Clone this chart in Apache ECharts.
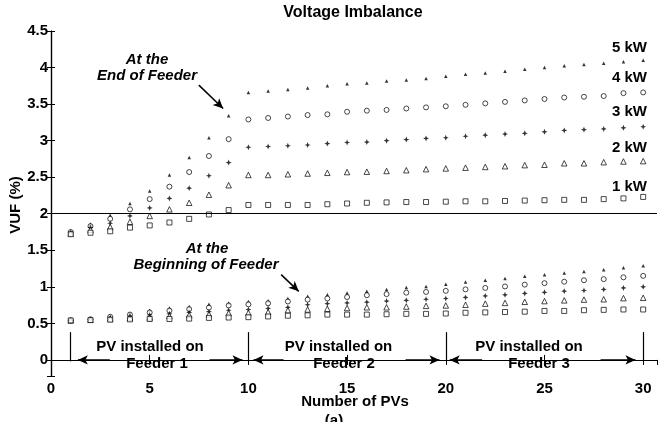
<!DOCTYPE html>
<html>
<head>
<meta charset="utf-8">
<script src="https://cdn.jsdelivr.net/npm/echarts@6/dist/echarts.min.js"></script>
<style>html,body{margin:0;padding:0;background:#fff}#c{width:659px;height:422px}</style>
</head>
<body>
<div id="c"></div>
<script>
// Number of PVs (x)
const pvCounts = [1,2,3,4,5,6,7,8,9,10,11,12,13,14,15,16,17,18,19,20,21,22,23,24,25,26,27,28,29,30];
const xTicks = [0,5,10,15,20,25,30];
const yTicks = [0,0.5,1,1.5,2,2.5,3,3.5,4,4.5];
// PV at the End of Feeder
const end5kW = [1.76,1.86,1.98,2.14,2.31,2.53,2.77,3.04,3.34,3.66,3.68,3.70,3.72,3.75,3.78,3.79,3.815,3.83,3.85,3.88,3.91,3.925,3.95,3.975,4.0,4.025,4.04,4.06,4.08,4.10];
const end4kW = [1.75,1.83,1.93,2.06,2.20,2.37,2.57,2.79,3.02,3.29,3.31,3.33,3.35,3.36,3.395,3.41,3.42,3.44,3.455,3.47,3.49,3.51,3.53,3.55,3.57,3.59,3.60,3.61,3.65,3.66];
const end3kW = [1.74,1.81,1.87,1.97,2.08,2.21,2.35,2.52,2.70,2.91,2.92,2.93,2.94,2.96,2.975,2.98,3.0,3.015,3.03,3.04,3.06,3.075,3.09,3.10,3.12,3.14,3.15,3.16,3.175,3.19];
const end2kW = [1.73,1.78,1.82,1.89,1.97,2.06,2.15,2.26,2.39,2.53,2.53,2.54,2.55,2.56,2.57,2.575,2.585,2.595,2.61,2.62,2.63,2.64,2.65,2.665,2.67,2.69,2.69,2.705,2.715,2.72];
const end1kW = [1.72,1.74,1.76,1.81,1.84,1.88,1.93,1.99,2.05,2.12,2.12,2.12,2.12,2.13,2.14,2.15,2.155,2.16,2.16,2.165,2.17,2.17,2.175,2.18,2.185,2.19,2.19,2.20,2.21,2.23];
// PV at the Beginning of Feeder
const beg5kW = [0.54,0.56,0.60,0.64,0.68,0.71,0.73,0.76,0.78,0.80,0.81,0.84,0.87,0.89,0.915,0.94,0.965,0.99,1.005,1.035,1.065,1.09,1.115,1.145,1.165,1.19,1.21,1.235,1.26,1.29];
const beg4kW = [0.54,0.555,0.59,0.62,0.65,0.675,0.695,0.715,0.745,0.76,0.775,0.80,0.825,0.84,0.86,0.885,0.90,0.92,0.93,0.945,0.965,0.985,1.005,1.03,1.05,1.07,1.09,1.105,1.13,1.15];
const beg3kW = [0.54,0.55,0.575,0.60,0.615,0.63,0.65,0.66,0.68,0.69,0.705,0.72,0.755,0.77,0.78,0.79,0.805,0.815,0.83,0.84,0.855,0.875,0.89,0.91,0.925,0.94,0.95,0.965,0.985,1.0];
const beg2kW = [0.54,0.55,0.565,0.575,0.58,0.60,0.615,0.625,0.64,0.645,0.655,0.68,0.69,0.70,0.71,0.72,0.72,0.73,0.74,0.745,0.755,0.77,0.78,0.795,0.805,0.815,0.825,0.83,0.845,0.85];
const beg1kW = [0.54,0.545,0.55,0.555,0.56,0.56,0.565,0.575,0.58,0.585,0.595,0.605,0.61,0.62,0.62,0.62,0.625,0.63,0.63,0.635,0.645,0.65,0.655,0.66,0.67,0.67,0.68,0.685,0.69,0.69];
const powerLabels = ['5 kW','4 kW','3 kW','2 kW','1 kW'];

const FONT = "'Liberation Sans', Arial, Helvetica, sans-serif";
const pair = (ys) => pvCounts.map((x, i) => [x, ys[i]]);
const STAR = 'path://M5,0 L6.4,3.6 L10,5 L6.4,6.4 L5,10 L3.6,6.4 L0,5 L3.6,3.6 Z';
const markers = [
  {symbol: 'triangle', size: 3.5, fill: '#000'},
  {symbol: 'circle', size: 5, fill: '#fff'},
  {symbol: STAR, size: 6, fill: '#000'},
  {symbol: 'triangle', size: 5.5, fill: '#fff'},
  {symbol: 'rect', size: 5, fill: '#fff'}
];
const endSets = [end5kW, end4kW, end3kW, end2kW, end1kW];
const begSets = [beg5kW, beg4kW, beg3kW, beg2kW, beg1kW];

function scatter(name, ys, m) {
  return {
    type: 'scatter', name: name, data: pair(ys), symbol: m.symbol, symbolSize: m.size,
    itemStyle: {color: m.fill, borderColor: '#000', borderWidth: m.fill === '#fff' ? 0.9 : 0},
    emphasis: {disabled: true}, silent: true, z: 3
  };
}
const series = [];
endSets.forEach((ys, i) => series.push(scatter('End ' + powerLabels[i], ys, markers[i])));
begSets.forEach((ys, i) => series.push(scatter('Beginning ' + powerLabels[i], ys, markers[i])));

// separator lines and 2% reference line
series[4].markLine = {
  silent: true, symbol: 'none', animation: false, label: {show: false},
  lineStyle: {color: '#000', width: 1.2, type: 'solid'},
  data: [
    {yAxis: 2, lineStyle: {width: 1}},
    [{coord: [1, -0.02]}, {coord: [1, 0.38]}],
    [{coord: [10, -0.02]}, {coord: [10, 0.38]}],
    [{coord: [20, -0.02]}, {coord: [20, 0.38]}],
    [{coord: [30, -0.02]}, {coord: [30, 0.38]}]
  ]
};
// arrows
series[9].markLine = {
  silent: true, symbol: ['none', 'arrow'], symbolSize: [7, 10], animation: false, label: {show: false},
  lineStyle: {color: '#000', width: 1.5, type: 'solid'},
  data: [
    [{coord: [2.98, 0]}, {coord: [1.36, 0]}],
    [{coord: [8.03, 0]}, {coord: [9.70, 0]}],
    [{coord: [11.78, 0]}, {coord: [10.26, 0]}],
    [{coord: [17.96, 0]}, {coord: [19.68, 0]}],
    [{coord: [21.84, 0]}, {coord: [20.2, 0]}],
    [{coord: [27.84, 0]}, {coord: [29.61, 0]}],
    [{coord: [7.49, 3.76]}, {coord: [8.72, 3.44]}],
    [{coord: [11.66, 1.167]}, {coord: [12.55, 0.938]}]
  ]
};

const tickFmtX = (v) => xTicks.some(t => Math.abs(t - v) < 1e-6) ? String(v) : '';
const tickFmtY = (v) => yTicks.some(t => Math.abs(t - v) < 1e-6) ? String(+v.toFixed(2)) : '';
const lab = {color: '#000', fontFamily: FONT, fontWeight: 'bold', fontSize: 15};

const option = {
  animation: false,
  backgroundColor: '#fff',
  grid: {left: 51, right: 2, top: 31, bottom: 46, containLabel: false},
  xAxis: [
    {type: 'value', min: 0, max: 30.7, interval: 5, position: 'bottom',
     axisLine: {lineStyle: {color: '#000', width: 1.2}}, axisTick: {inside: true, length: 5, lineStyle: {color: '#000'}},
     axisLabel: Object.assign({margin: 5, formatter: tickFmtX, showMaxLabel: false}, lab), splitLine: {show: false}},
    {type: 'value', min: 0, max: 30.7, interval: 5, position: 'top',
     axisLine: {lineStyle: {color: '#000', width: 1.2}}, axisTick: {inside: true, length: 5, lineStyle: {color: '#000'}},
     axisLabel: {show: false}, splitLine: {show: false}}
  ],
  yAxis: [
    {type: 'value', min: -0.22, max: 4.5, splitNumber: 9, position: 'left',
     axisLine: {lineStyle: {color: '#000', width: 1.2}}, axisTick: {inside: true, length: 4, lineStyle: {color: '#000'}},
     axisLabel: Object.assign({margin: 3, formatter: tickFmtY}, lab), splitLine: {show: false}},
    {type: 'value', min: -0.22, max: 4.5, splitNumber: 9, position: 'right',
     axisLine: {lineStyle: {color: '#000', width: 1.2}}, axisTick: {inside: true, length: 4, lineStyle: {color: '#000'}},
     axisLabel: {show: false}, splitLine: {show: false}}
  ],
  series: series,
  graphic: []
};
const bold = (size, italic) => ({fill: '#000', font: (italic ? 'italic ' : '') + 'bold ' + size + 'px ' + FONT, textAlign: 'center', textVerticalAlign: 'middle'});
function txt(s, x, y, size, italic, align) {
  const st = bold(size, italic); st.text = s; if (align) st.textAlign = align;
  return {type: 'text', x: x, y: y, style: st, silent: true, z: 10};
}
option.graphic.push(txt('Voltage Imbalance', 353, 12.5, 16));
option.graphic.push(txt('Number of PVs', 355, 402, 15));
option.graphic.push(txt('(a)', 334, 421, 15));
option.graphic.push(Object.assign(txt('VUF (%)', 16, 205, 15), {rotation: Math.PI / 2}));
option.graphic.push(txt('At the', 147, 59.5, 15, true));
option.graphic.push(txt('End of Feeder', 147, 76, 15, true));
option.graphic.push(txt('At the', 207, 248.5, 15, true));
option.graphic.push(txt('Beginning of Feeder', 206, 264.5, 15, true));
const kwY = [48, 78, 112, 148, 187];
powerLabels.forEach((s, i) => option.graphic.push(txt(s, 647, kwY[i], 15, false, 'right')));
option.graphic.push(txt('PV installed on', 150, 347, 15));
option.graphic.push(txt('Feeder 1', 157, 364, 15));
option.graphic.push(txt('PV installed on', 338.5, 347, 15));
option.graphic.push(txt('Feeder 2', 344, 364, 15));
option.graphic.push(txt('PV installed on', 529, 347, 15));
option.graphic.push(txt('Feeder 3', 539, 364, 15));

const chart = echarts.init(document.getElementById('c'), null, {renderer: 'canvas'});
chart.setOption(option);
</script>
</body>
</html>
